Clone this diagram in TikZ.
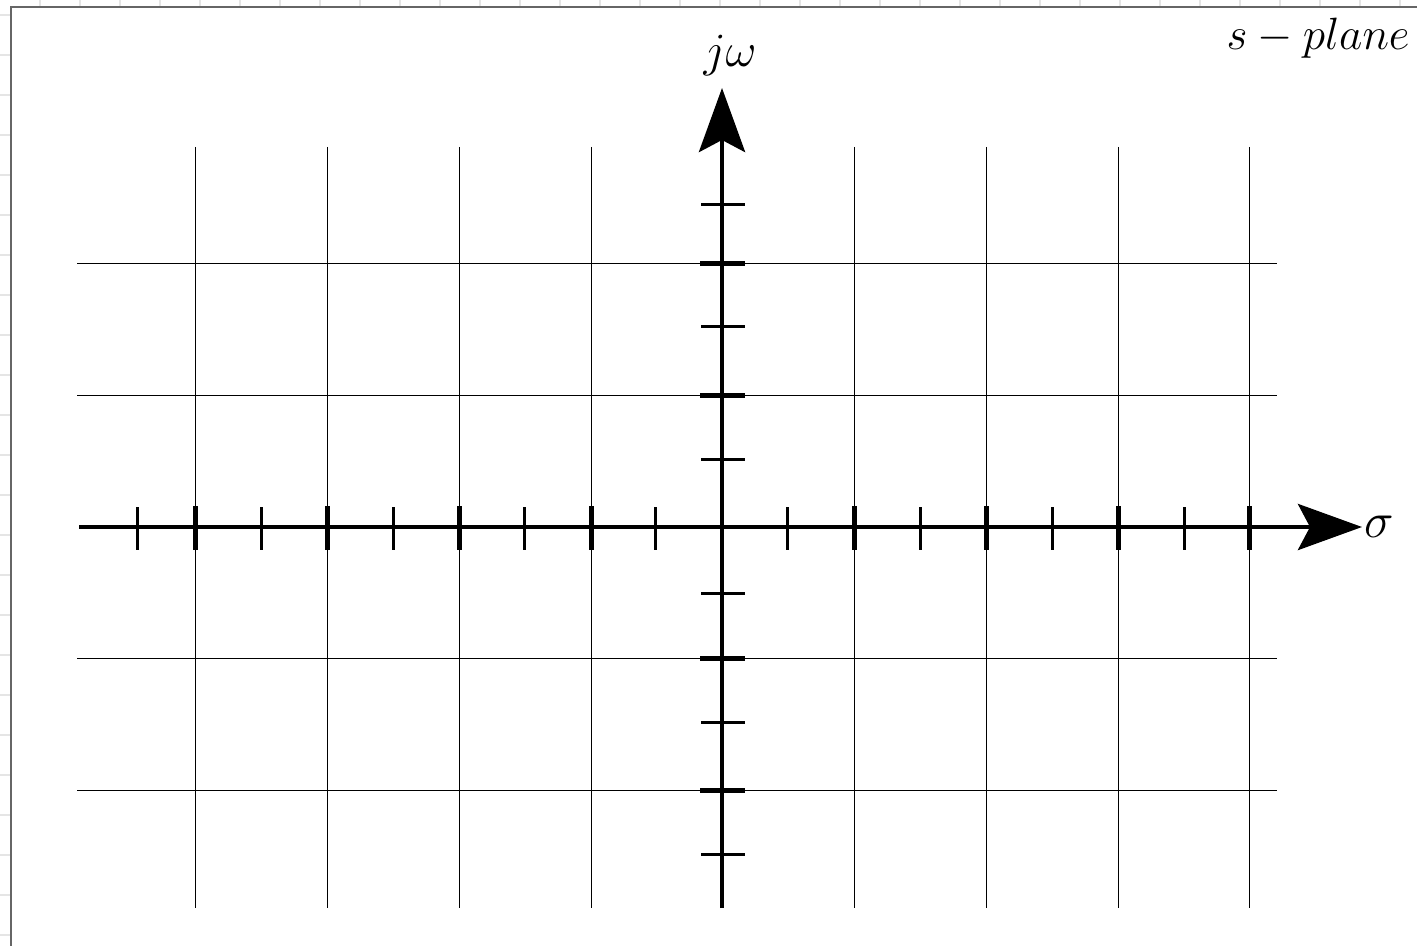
\documentclass[tikz,border=0pt]{standalone}
\usepackage{amsmath,amssymb}
\usepackage{graphicx}
\usepackage{tikz}
\usetikzlibrary{arrows.meta}
\tikzset{
  pagegrid/.style={draw=black!10,line width=0.6pt},
  frame/.style={draw=black!60,line width=0.8pt},
  gridline/.style={draw=black,line width=0.5pt},
  axisline/.style={line width=2.4pt,-{Stealth[length=32pt,width=23pt,inset=6pt]}},
  majortick/.style={line width=2.5pt},
  minortick/.style={line width=1.5pt},
  axlabel/.style={font=\fontsize{24.88}{28}\selectfont},
}

\begin{document}
\begin{tikzpicture}[x=0.5pt,y=-0.5pt]
  \useasboundingbox (0,0) rectangle (1417,946);
  % page grid and frame
  \foreach \x in {40,80,...,1400} \draw[pagegrid] (\x,0) -- (\x,7);
  \foreach \y in {15,55,...,935} \draw[pagegrid] (0,\y) -- (11,\y);
  \draw[frame] (11,946) -- (11,7) -- (1417,7);
  % grid
  \foreach \x in {195,327,459,591,854,986,1118,1249} \draw[gridline] (\x,147) -- (\x,908);
  \foreach \y in {264,395,658,790} \draw[gridline] (77,\y) -- (1277,\y);
  % axes
  \coordinate (sigL) at (79,527);
  \coordinate (sigR) at (1362,527);
  \coordinate (omB) at (722,908);
  \coordinate (omT) at (722,88);
  \draw[axisline] (sigL) -- (sigR);
  \draw[axisline] (omB) -- (omT);
  % ticks
  \foreach \x in {195,327,459,591,854,986,1118,1249} \draw[majortick] (\x,506) -- (\x,550);
  \foreach \x in {137,261,393,524,655,787,920,1052,1184} \draw[minortick] (\x,507) -- (\x,550);
  \foreach \y in {264,395,658,790} \draw[majortick] (700,\y) -- (745,\y);
  \foreach \y in {205,327,459,593,722,854} \draw[minortick] (701,\y) -- (745,\y);
  % labels
  \node[axlabel,font=\fontsize{29.86}{34}\selectfont,anchor=west,inner sep=1pt] (sig) at (sigR) {$\sigma$};
  \node[axlabel] (jw) at (730,55) {\scalebox{0.96}{$j\omega$}};
  \node[axlabel,anchor=east,inner sep=0pt] (splane) at (1410,38) {\scalebox{0.91}{$s-plane$}};
\end{tikzpicture}
\end{document}
